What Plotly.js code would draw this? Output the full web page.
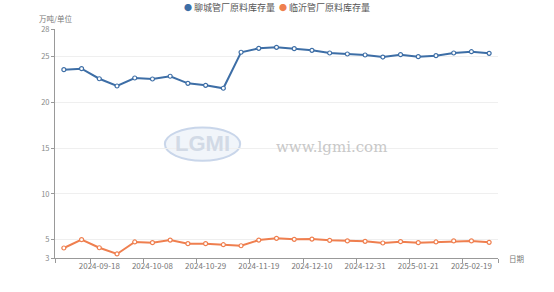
<!DOCTYPE html>
<html><head><meta charset="utf-8">
<script src="https://cdn.plot.ly/plotly-3.0.1.min.js"></script>
<style>html,body{margin:0;padding:0;background:#fff}#c{width:554px;height:292px}</style>
</head><body><div id="c"></div>
<script>
const dates = ["2024-09-04","2024-09-11","2024-09-18","2024-09-25","2024-09-30","2024-10-08","2024-10-15","2024-10-22","2024-10-29","2024-11-05","2024-11-12","2024-11-19","2024-11-26","2024-12-03","2024-12-10","2024-12-17","2024-12-24","2024-12-31","2025-01-07","2025-01-14","2025-01-21","2025-02-05","2025-02-12","2025-02-19","2025-02-26"];
const liaocheng = [23.56,23.67,22.57,21.78,22.65,22.54,22.84,22.07,21.85,21.53,25.46,25.89,26.0,25.85,25.67,25.38,25.27,25.16,24.94,25.2,24.98,25.09,25.38,25.52,25.34];
const linyi = [4.09,5.0,4.12,3.44,4.75,4.67,4.96,4.56,4.56,4.45,4.34,4.96,5.15,5.04,5.07,4.93,4.86,4.82,4.64,4.78,4.67,4.75,4.86,4.86,4.71];
const seriesNames = ["聊城管厂原料库存量","临沂管厂原料库存量"];
const yTicks = [3,5,10,15,20,25,28];
const labelEvery = 3, labelStart = 2;

const idx = dates.map((d,i)=>i);
const labIdx = idx.filter(i => i >= labelStart && (i - labelStart) % labelEvery === 0);
const bandIdx = labIdx.map(i => i - 0.5).concat([-0.5, dates.length - 0.5]);
const font = "Noto Sans CJK SC, Noto Sans, sans-serif";
const colors = ["#3d6ea6","#ef7f4f"];

const traces = [liaocheng, linyi].map((vals, k) => ({
  x: idx, y: vals, name: seriesNames[k], type: "scatter", mode: "lines+markers",
  line: {color: colors[k], width: 2},
  marker: {symbol: "circle", size: 4, color: "#fff", line: {color: colors[k], width: 1.2}},
  hoverinfo: "skip", showlegend: false
}));
traces.push({x: [0], y: [null], xaxis: "x2", showlegend: false, hoverinfo: "skip", type: "scatter"});

const legendText = seriesNames.map((n, k) =>
  `<span style="color:${colors[k]};font-size:8px">●</span> ${n}`).join("  ");

const layout = {
  width: 554, height: 292,
  margin: {l: 55, r: 56, t: 29, b: 34, autoexpand: false},
  paper_bgcolor: "#fff", plot_bgcolor: "#fff",
  font: {family: font, size: 8, color: "#777"},
  showlegend: false,
  xaxis: {
    range: [-0.5, dates.length - 0.5], tickmode: "array", tickvals: labIdx,
    ticktext: labIdx.map(i => dates[i]), ticks: "", showgrid: false, zeroline: false,
    showline: true, linecolor: "#999", linewidth: 1, tickfont: {size: 8, color: "#777"},
    fixedrange: true
  },
  xaxis2: {
    overlaying: "x", matches: "x", side: "bottom", anchor: "y", tickmode: "array", tickvals: bandIdx,
    showticklabels: false, ticks: "outside", ticklen: 4, tickcolor: "#999", showgrid: false,
    zeroline: false, showline: false
  },
  yaxis: {
    range: [3, 28], tickmode: "array", tickvals: yTicks, ticks: "outside", ticklen: 3, tickcolor: "#999",
    showline: true, linecolor: "#999", linewidth: 1, gridcolor: "#efefef", gridwidth: 1, zeroline: false,
    tickfont: {size: 7.5, color: "#888"}, fixedrange: true
  },
  annotations: [
    {text: legendText, xref: "paper", yref: "paper", x: 0.5, y: 1.095, xanchor: "center", yanchor: "middle",
      showarrow: false, font: {size: 9, color: "#555"}},
    {text: "万吨/单位", xref: "paper", yref: "paper", x: -0.04, y: 1.044, xanchor: "left", yanchor: "middle",
      showarrow: false, font: {size: 7.5, color: "#777"}},
    {text: "日期", xref: "paper", yref: "paper", x: 1.02, y: 0, xanchor: "left", yanchor: "middle",
      showarrow: false, font: {size: 7.5, color: "#777"}},
    {text: "www.lgmi.com", xref: "paper", yref: "paper", x: 0.495, y: 0.485, xanchor: "left", yanchor: "middle",
      showarrow: false, font: {family: "DejaVu Serif, Liberation Serif, serif", size: 15, color: "#c8c8c8"}},
    {text: "<b>LGMI</b>", xref: "paper", yref: "paper", x: 0.333, y: 0.50, xanchor: "center", yanchor: "middle",
      showarrow: false, font: {family: "Liberation Sans, sans-serif", size: 22, color: "#d2dae6"}}
  ],
  shapes: [
    {type: "circle", xref: "paper", yref: "paper", x0: 0.248, x1: 0.418, y0: 0.425, y1: 0.57,
      line: {color: "#c9d6ea", width: 2}, fillcolor: "rgba(200,215,235,0.25)", layer: "below"}
  ]
};
Plotly.newPlot("c", traces, layout, {displayModeBar: false, staticPlot: true});
</script></body></html>
